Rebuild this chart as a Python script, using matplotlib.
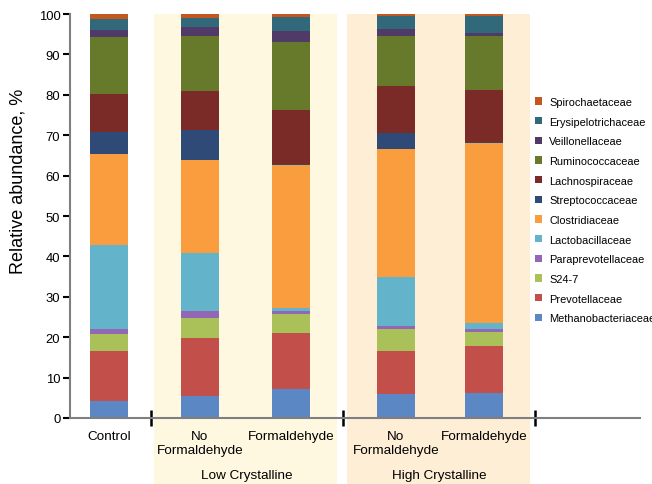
import matplotlib
matplotlib.use('Agg')
import matplotlib.pyplot as plt
from matplotlib.patches import Rectangle, Patch

plt.rcParams['font.family'] = ['Liberation Sans', 'DejaVu Sans']

# ---------------- data ----------------
families = ['Methanobacteriaceae', 'Prevotellaceae', 'S24-7', 'Paraprevotellaceae',
            'Lactobacillaceae', 'Clostridiaceae', 'Streptococcaceae', 'Lachnospiraceae',
            'Ruminococcaceae', 'Veillonellaceae', 'Erysipelotrichaceae', 'Spirochaetaceae']
sample_labels = ['Control', 'No\nFormaldehyde', 'Formaldehyde', 'No\nFormaldehyde', 'Formaldehyde']
group_labels = ['Low Crystalline', 'High Crystalline']

control        = [4.1, 12.4, 4.2, 1.3, 20.8, 22.6, 5.5, 9.3, 14.2, 1.7, 2.7, 1.2]
low_no_form    = [5.4, 14.3, 5.1, 1.6, 14.4, 23.1, 7.5, 9.5, 13.6, 2.4, 2.1, 1.0]
low_form       = [7.2, 13.8, 4.7, 0.9, 0.7, 35.3, 0.2, 13.5, 16.7, 2.7, 3.5, 0.8]
high_no_form   = [5.9, 10.6, 5.5, 0.8, 12.0, 31.7, 4.0, 11.6, 12.5, 1.6, 3.2, 0.6]
high_form      = [6.3, 11.6, 3.5, 0.6, 1.5, 44.6, 0.1, 13.0, 13.3, 0.9, 4.2, 0.4]
samples = [control, low_no_form, low_form, high_no_form, high_form]

colors = ['#5B87C4', '#C24F4A', '#AAC059', '#9167B6', '#63B3CA', '#F99D3F',
          '#2F4A76', '#7A2B27', '#67792A', '#503A67', '#31697A', '#C3581F']

# ---------------- layout ----------------
W, H = 652, 485
fig = plt.figure(figsize=(W / 100, H / 100), dpi=100)
ax = fig.add_axes([70 / W, (H - 419) / H, 570 / W, 404 / H])

bar_x = [0.56, 1.51, 2.46, 3.55, 4.47]
bar_w = 0.40
group_sep = [1, 3, 5]
group_centers = [2, 4]
bands = [(1.03, 2.94, '#FFF8E1'), (3.04, 4.95, '#FFEED6')]

trans = ax.get_xaxis_transform()
for x0, x1, c in bands:
    ax.add_patch(Rectangle((x0, -0.165), x1 - x0, 1.165, transform=trans,
                           facecolor=c, edgecolor='none', clip_on=False, zorder=0))

for xi, vals in zip(bar_x, samples):
    bottom = 0
    for v, c in zip(vals, colors):
        ax.bar(xi, v, bottom=bottom, width=bar_w, color=c, edgecolor='none', zorder=2)
        bottom += v

ax.set_xlim(0.15625, 6.09375)
ax.set_ylim(0, 100)
ax.set_yticks(range(0, 101, 10))
ax.set_facecolor('none')

for s in ['top', 'right']:
    ax.spines[s].set_visible(False)
for s in ['left', 'bottom']:
    ax.spines[s].set_color('#7F7F7F')
    ax.spines[s].set_linewidth(1.5)
    ax.spines[s].set_zorder(3)

ax.tick_params(axis='y', direction='out', length=5, width=1.5, color='black',
               labelsize=9.4, pad=2, labelcolor='black')
ax.set_xticks(group_sep)
ax.set_xticklabels([])
ax.tick_params(axis='x', which='major', direction='inout', length=11, width=1.8, color='black')
ax.set_xticks(bar_x, minor=True)
ax.set_xticklabels(sample_labels, minor=True)
ax.tick_params(axis='x', which='minor', length=0, pad=9, labelsize=9.7)

for xc, g in zip(group_centers, group_labels):
    ax.text(xc, -0.14, g, transform=trans, ha='center', va='center', fontsize=9.7)

ax.set_ylabel('Relative abundance, %', fontsize=13)
ax.yaxis.label.set_verticalalignment('center')
ax.yaxis.set_label_coords((18 - 70) / 570, 0.589)

handles = [Patch(facecolor=c, edgecolor='none') for c in colors][::-1]
fig.legend(handles, families[::-1], loc='upper left',
           bbox_to_anchor=(535 / W, (H - 98) / H), frameon=False, fontsize=7.9,
           handlelength=0.65, handleheight=0.65, handletextpad=0.65,
           labelspacing=0.88, borderaxespad=0, borderpad=0)

fig.savefig('out.png', dpi=100)
